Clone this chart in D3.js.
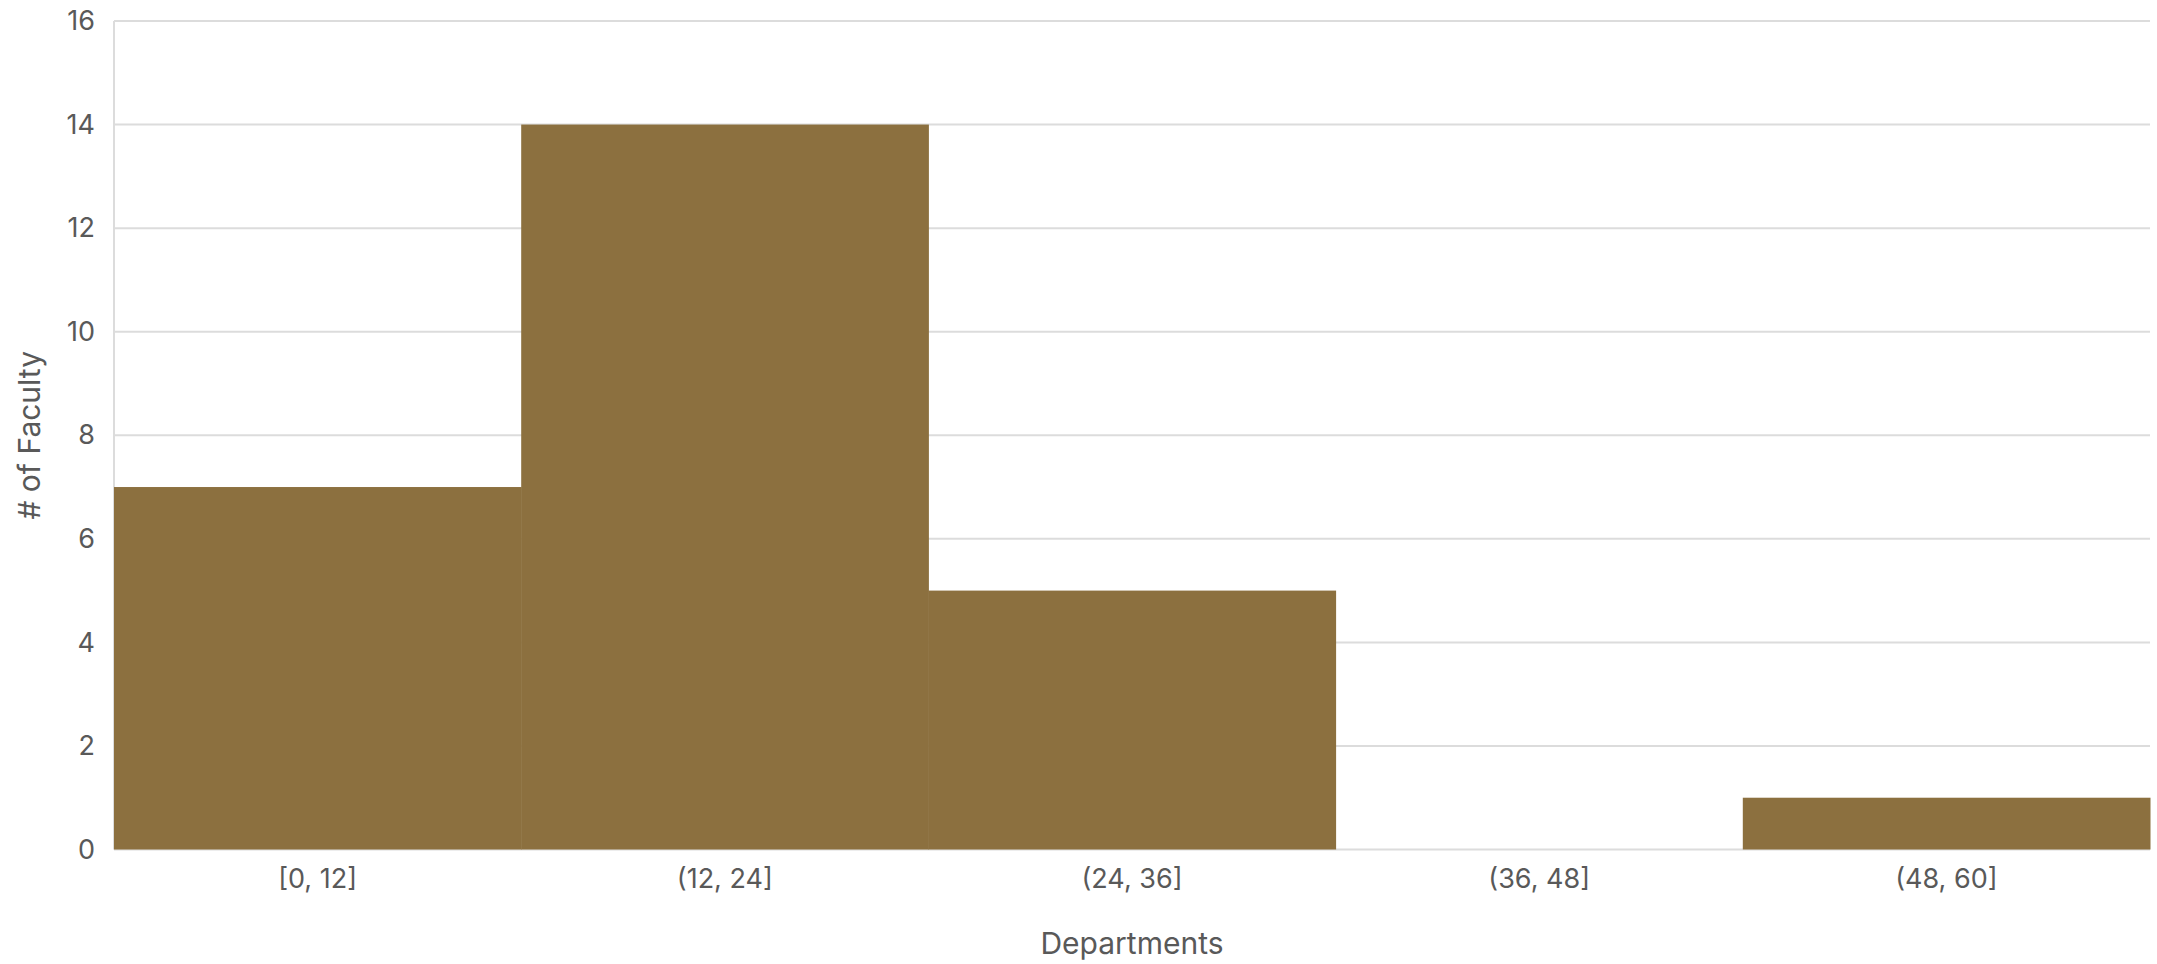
<!DOCTYPE html>
<html><head><meta charset="utf-8">
<script src="https://cdn.jsdelivr.net/npm/d3@7"></script>
<style>html,body{margin:0;padding:0;background:#fff;}svg{display:block;}</style>
</head><body>
<script>
const categories = ["[0, 12]", "(12, 24]", "(24, 36]", "(36, 48]", "(48, 60]"];
const values = [7, 14, 5, 0, 1];
const yTicks = [0, 2, 4, 6, 8, 10, 12, 14, 16];
const xTitle = "Departments";
const yTitle = "# of Faculty";

const W = 2157, H = 964;
const m = {left: 114, right: 7, top: 21, bottom: 114.5};
const svg = d3.select("body").append("svg").attr("width", W).attr("height", H);
const x = d3.scaleBand().domain(categories).range([m.left, W - m.right]).padding(0);
const y = d3.scaleLinear().domain([0, 16]).range([H - m.bottom, m.top]);
const font = "Inter, Roboto, sans-serif";
const txt = "#595959";

// gridlines
svg.append("g").selectAll("line").data(yTicks).join("line")
  .attr("x1", m.left).attr("x2", W - m.right)
  .attr("y1", d => y(d)).attr("y2", d => y(d))
  .attr("stroke", "#dcdcdc").attr("stroke-width", 2);
// left axis line
svg.append("line").attr("x1", m.left).attr("x2", m.left)
  .attr("y1", y(16)).attr("y2", y(0)).attr("stroke", "#dcdcdc").attr("stroke-width", 2);

// bars
svg.append("g").selectAll("rect").data(values).join("rect")
  .attr("x", (d, i) => x(categories[i]))
  .attr("width", x.bandwidth() + 0.5)
  .attr("y", d => y(d))
  .attr("height", d => y(0) - y(d))
  .attr("fill", "#8c703f");

// y axis
const ya = svg.append("g").attr("transform", `translate(${m.left},0)`)
  .call(d3.axisLeft(y).tickValues(yTicks).tickSize(0).tickPadding(19));
ya.select(".domain").remove();
ya.selectAll("text").attr("font-family", font).attr("font-size", 27).attr("fill", txt);

// x axis
const xa = svg.append("g").attr("transform", `translate(0,${y(0)})`)
  .call(d3.axisBottom(x).tickSize(0).tickPadding(19));
xa.select(".domain").remove();
xa.selectAll("text").attr("font-family", font).attr("font-size", 27).attr("fill", txt);

// titles
svg.append("text").attr("x", (m.left + W - m.right) / 2).attr("y", 943)
  .attr("text-anchor", "middle").attr("dominant-baseline", "central")
  .attr("font-family", font).attr("font-size", 30).attr("fill", txt).text(xTitle);
svg.append("text").attr("transform", `translate(29,${(y(0) + y(16)) / 2}) rotate(-90)`)
  .attr("text-anchor", "middle").attr("dominant-baseline", "central")
  .attr("font-family", font).attr("font-size", 30).attr("fill", txt).text(yTitle);
</script>
</body></html>
